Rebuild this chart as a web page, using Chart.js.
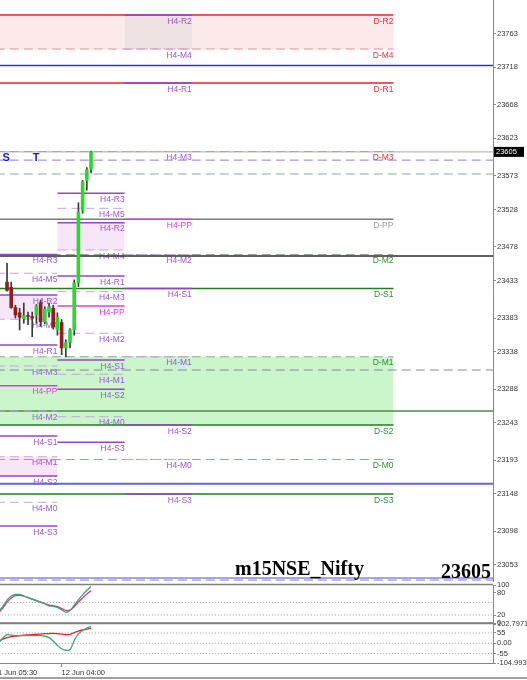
<!DOCTYPE html>
<html>
<head>
<meta charset="utf-8">
<script src="https://cdn.jsdelivr.net/npm/chart.js@4"></script>
<style>
  body { margin: 0; background: #fff; }
  #wrap { position: relative; width: 527px; height: 680px; overflow: hidden; }
  canvas { position: absolute; left: 0; }
</style>
</head>
<body>
<div id="wrap">
  <canvas id="main" width="527" height="582" style="top:0"></canvas>
  <canvas id="osc1" width="527" height="52" style="top:578px"></canvas>
  <canvas id="osc2" width="527" height="63" style="top:617px"></canvas>
</div>
<script>
// ---- data ----
const symbolName = 'm15NSE_Nifty';

const opens  = [23431,23424,23397,23390,23382,23386,23385,23387,23403,23378,23391,23396,23367,23377,23343,23350,23367,23430,23527,23567,23582];
const highs  = [23456,23431,23400,23396,23403,23391,23391,23401,23407,23398,23403,23400,23390,23381,23354,23369,23434,23537,23567,23584,23606];
const lows   = [23419,23396,23383,23367,23376,23374,23358,23376,23372,23375,23384,23368,23360,23334,23331,23343,23360,23425,23523,23554,23577];
const closes = [23420,23397,23387,23384,23386,23385,23383,23399,23378,23395,23398,23371,23384,23343,23350,23367,23430,23525,23565,23581,23605];

const priceTicks = [23763,23718,23668,23623,23573,23528,23478,23433,23383,23338,23288,23243,23193,23148,23098,23053];

const dailyNames  = ['D-R2','D-M4','D-R1','D-M3','D-PP','D-M2','D-S1','D-M1','D-S2','D-M0','D-S3'];
const dailyValues = [23788.0,23742.5,23697.1,23605.5,23514.9,23467.9,23422.4,23331.2,23240.0,23193.9,23147.8];
const dailyEnd = 92;

const h4Names = ['H4-R3','H4-M5','H4-R2','H4-M4','H4-R1','H4-M3','H4-PP','H4-M2','H4-S1','H4-M1','H4-S2','H4-M0','H4-S3'];
const h4PrevValues = [23467.9,23442.8,23413.8,23381.3,23346.9,23318.9,23292.5,23258.7,23225.3,23197.6,23171.9,23136.7,23105.1];
const h4CurValues  = [23549.7,23529.6,23510.4,23473.9,23439.2,23418.2,23399.1,23362.6,23326.9,23307.8,23287.7,23251.1,23216.9];
const h4NextValues = [null,null,23788.0,23742.5,23697.1,23605.5,23514.9,23467.9,23422.4,23331.2,23240.0,23193.9,23147.8];
const h4Starts = [-6, 12, 28];
const h4Ends   = [12, 28, 44];

// other horizontal lines that run to the price axis
const extraValues = [23720.5, 23605, 23594, 23575.5, 23465.9, 23313.5, 23258.8, 23161.6, 23035.5, 23033];

const sessionMarks = ['S', 'T'];
const sessionIdx   = [-0.2, 6.9];
const sessionPrice = 23597;

const oscIdx      = [-2,-1,0,1,2,3,4,5,6,7,8,9,10,11,12,13,14,15,16,17,18,19,20];
const stochMain   = [31,44,60,71,75,75,71,67,63,59,55,51,45,44,41,35,28,33,47,61,74,86,96];
const stochSignal = [28,39,55,66,72,73,71,67,63,59,55,51,47,46,43,38,33,34,43,55,66,76,85];
const stochLevels = [54, 21];
const stochTicks  = [100, 80, 20, 0];

const cciMain   = [1,28,46,44,41,41,41,41,41,41,41,38,30,12,-10,-29,-37,-34,15,50,68,81,89];
const cciSignal = [9,22,30,36,38,41,44,45,46,48,49,51,52,53,52,49,46,48,57,65,71,76,80];
const cciLevels = [55, 0, -55];
const cciTicks  = [102.7971, 55, 0, -55, -104.993];
const cciTickLabels = ['102.7971', '55', '0.00', '-55', '-104.993'];

const timeTickIdx = [-3, 13];
const timeLabels  = ['11 Jun 05:30', '12 Jun 04:00'];

// ---- styles ----
const xMin = -1.67, xMax = 115.7;
const yMin = 23030.2, yMax = 23808;
const DASH = [9, 5];
const UP = '#30d630', DOWN = '#8e1f1f', WICK = '#3a3a3a';
const axisFont = { family: 'Liberation Sans', size: 7.5 };
const labelFont = '8.5px "Liberation Sans"';

const extraStyles = [
  { color: '#3232cf', width: 1.5, dash: [] },
  { color: '#a8a8a8', width: 1, dash: [] },
  { color: '#8585d0', width: 1, dash: DASH },
  { color: '#86b086', width: 1, dash: DASH },
  { color: '#2a2a2a', width: 1.5, dash: [] },
  { color: '#8585b0', width: 1, dash: DASH },
  { color: '#4f874f', width: 1.5, dash: [] },
  { color: '#6666d2', width: 2, dash: [] },
  { color: '#a6a6e6', width: 2, dash: [] },
  { color: '#a6a6e6', width: 1.5, dash: DASH }
];

function dailyStyle(name) {
  if (name === 'D-PP') return { line: '#7a7a7a', label: '#9a9a9a', width: 1.5, dash: [] };
  const mid = name.startsWith('D-M');
  if (['D-R2', 'D-M4', 'D-R1', 'D-M3'].includes(name))
    return { line: mid ? '#ec8a8f' : '#e8232b', label: '#e8303a', width: mid ? 1 : 1.5, dash: mid ? DASH : [] };
  return { line: mid ? '#86b086' : '#1f7f1f', label: '#2f8f2f', width: mid ? 1 : 1.5, dash: mid ? DASH : [] };
}

function h4Style(name) {
  if (name === 'H4-PP') return { line: '#e23ae2', label: '#e23ae2', width: 1.5, dash: [] };
  if (name.startsWith('H4-M')) return { line: '#c9a2e6', label: '#9d55d6', width: 1, dash: DASH };
  return { line: '#9346c9', label: '#9d55d6', width: 1.5, dash: [] };
}

const dailyZones = [['D-R2', 'D-M4', '#fdeaea'], ['D-M1', 'D-S2', '#cbf5cb']];
const blockZones = [
  [['H4-R2', 'H4-M4', '#f7e6f7'], ['H4-M1', 'H4-S2', '#f7e6f7']],
  [['H4-R2', 'H4-M4', '#f7e6f7']],
  [['H4-R2', 'H4-M4', '#efe2e2']]
];

// ---- datasets ----
const h4Blocks = [h4PrevValues, h4CurValues, h4NextValues];
const idx = closes.map((c, i) => i);

function hline(from, to, value, color, width, dash, order) {
  return {
    type: 'line', data: [{ x: from, y: value }, { x: to, y: value }],
    borderColor: color, borderWidth: width, borderDash: dash,
    pointRadius: 0, order: order
  };
}

const mainSets = [
  {
    type: 'bar', data: idx.map(i => ({ x: i, y: [opens[i], closes[i]] })),
    backgroundColor: idx.map(i => closes[i] >= opens[i] ? UP : DOWN),
    barThickness: 3, grouped: false, order: 0, minBarLength: 1
  },
  {
    type: 'bar', data: idx.map(i => ({ x: i, y: [lows[i], highs[i]] })),
    backgroundColor: WICK, barThickness: 1, grouped: false, order: 1
  }
];
dailyNames.forEach((n, k) => {
  const s = dailyStyle(n);
  mainSets.push(hline(xMin - 1, dailyEnd, dailyValues[k], s.line, s.width, s.dash, 5));
});
extraValues.forEach((v, k) => {
  const s = extraStyles[k];
  mainSets.push(hline(xMin - 1, xMax + 1, v, s.color, s.width, s.dash, 4));
});
h4Blocks.forEach((vals, b) => vals.forEach((v, k) => {
  if (v == null) return;
  const s = h4Style(h4Names[k]);
  mainSets.push(hline(h4Starts[b], h4Ends[b], v, s.line, s.width, s.dash, 3));
}));

const levelDecor = {
  id: 'levelDecor',
  beforeDatasetsDraw(chart) {
    const { ctx, chartArea: a, scales: { x, y } } = chart;
    ctx.save();
    ctx.beginPath(); ctx.rect(a.left, a.top, a.width, a.height); ctx.clip();
    const dv = n => dailyValues[dailyNames.indexOf(n)];
    dailyZones.forEach(([hi, lo, col]) => {
      const x0 = x.getPixelForValue(xMin - 1), x1 = x.getPixelForValue(dailyEnd);
      const y0 = y.getPixelForValue(dv(hi)), y1 = y.getPixelForValue(dv(lo));
      ctx.fillStyle = col; ctx.fillRect(x0, y0, x1 - x0, y1 - y0);
    });
    blockZones.forEach((zs, b) => zs.forEach(([hi, lo, col]) => {
      const vals = h4Blocks[b];
      const x0 = x.getPixelForValue(h4Starts[b]), x1 = x.getPixelForValue(h4Ends[b]);
      const y0 = y.getPixelForValue(vals[h4Names.indexOf(hi)]), y1 = y.getPixelForValue(vals[h4Names.indexOf(lo)]);
      ctx.fillStyle = col; ctx.fillRect(x0, y0, x1 - x0, y1 - y0);
    }));
    ctx.font = labelFont; ctx.textAlign = 'right'; ctx.textBaseline = 'top';
    dailyNames.forEach((n, k) => {
      ctx.fillStyle = dailyStyle(n).label;
      ctx.fillText(n, x.getPixelForValue(dailyEnd), y.getPixelForValue(dailyValues[k]) + 2);
    });
    h4Blocks.forEach((vals, b) => vals.forEach((v, k) => {
      if (v == null) return;
      ctx.fillStyle = h4Style(h4Names[k]).label;
      ctx.fillText(h4Names[k], x.getPixelForValue(h4Ends[b]), y.getPixelForValue(v) + 2);
    }));
    ctx.font = 'bold 11px "Liberation Sans"'; ctx.fillStyle = '#1a1ad0';
    ctx.textAlign = 'center'; ctx.textBaseline = 'middle';
    sessionMarks.forEach((m, k) => ctx.fillText(m, x.getPixelForValue(sessionIdx[k]), y.getPixelForValue(sessionPrice)));
    ctx.restore();
  },
  afterDraw(chart) {
    const { ctx, chartArea: a, scales: { y } } = chart;
    const last = closes[closes.length - 1];
    ctx.save();
    ctx.fillStyle = '#000';
    ctx.font = 'bold 20px "Liberation Serif"';
    ctx.textBaseline = 'alphabetic';
    ctx.textAlign = 'left';
    ctx.fillText(symbolName, 235, a.bottom - 7);
    ctx.textAlign = 'right';
    ctx.fillText(String(last), a.right - 2, a.bottom - 4);
    const py = y.getPixelForValue(last);
    ctx.fillRect(a.right + 1, py - 5, 30, 10);
    ctx.fillStyle = '#fff';
    ctx.font = '7.5px "Liberation Sans"';
    ctx.textAlign = 'left'; ctx.textBaseline = 'middle';
    ctx.fillText(String(last), a.right + 3, py);
    ctx.restore();
  }
};

const frame = {
  id: 'frame',
  afterDraw(chart, args, opts) {
    const { ctx, chartArea: a } = chart;
    ctx.save();
    ctx.strokeStyle = '#808080'; ctx.lineWidth = 1.5;
    ctx.beginPath();
    if (opts.top) { ctx.moveTo(0, a.top - 0.5); ctx.lineTo(a.right, a.top - 0.5); }
    if (opts.bottom) { ctx.moveTo(0, a.bottom); ctx.lineTo(a.right, a.bottom); }
    if (opts.canvasBottom) { ctx.moveTo(0, chart.height - 2); ctx.lineTo(chart.width, chart.height - 2); }
    ctx.stroke();
    ctx.restore();
  }
};

// tick labels must not push the plot area inwards
function noPad(s) {
  s.paddingTop = 0; s.paddingBottom = 0; s.paddingLeft = 0; s.paddingRight = 0;
}

function yAxis(min, max, ticks, labels, pad) {
  return {
    type: 'linear', position: 'right', min: min, max: max,
    afterFit: s => { s.width = 34; noPad(s); },
    afterBuildTicks: s => { s.ticks = ticks.map(v => ({ value: v })); },
    ticks: {
      autoSkip: false, font: axisFont, color: '#333', padding: pad,
      callback: (v, i) => labels ? labels[i] : String(v)
    },
    grid: { drawOnChartArea: false, tickLength: 3, color: '#888' },
    border: { color: '#888' }
  };
}

new Chart(document.getElementById('main'), {
  type: 'bar',
  data: { datasets: mainSets },
  options: {
    responsive: false, animation: false,
    layout: { padding: 0, autoPadding: false },
    plugins: { legend: { display: false }, tooltip: { enabled: false } },
    scales: {
      x: { type: 'linear', min: xMin, max: xMax, offset: false, display: false },
      y: yAxis(yMin, yMax, priceTicks, null, 1)
    }
  },
  plugins: [levelDecor]
});

function dotted(v) {
  return hline(xMin - 1, xMax + 1, v, '#9a9a9a', 1, [1, 2], 5);
}
function curve(vals, color) {
  return {
    type: 'line', data: oscIdx.map((x, k) => ({ x: x, y: vals[k] })),
    borderColor: color, borderWidth: 1.3, pointRadius: 0, tension: 0.35, order: 1
  };
}

new Chart(document.getElementById('osc1'), {
  type: 'line',
  data: { datasets: [...stochLevels.map(dotted), curve(stochMain, '#3aa86a'), curve(stochSignal, '#e42a86')] },
  options: {
    responsive: false, animation: false,
    layout: { padding: { top: 7, bottom: 7, left: 0, right: 0 }, autoPadding: false },
    plugins: { legend: { display: false }, tooltip: { enabled: false }, frame: { top: true, bottom: true } },
    scales: {
      x: { type: 'linear', min: xMin, max: xMax, display: false },
      y: yAxis(0, 100, stochTicks, null, 1)
    }
  },
  plugins: [frame]
});

new Chart(document.getElementById('osc2'), {
  type: 'line',
  data: { datasets: [...cciLevels.map(dotted), curve(cciMain, '#3aa86a'), curve(cciSignal, '#e02424')] },
  options: {
    responsive: false, animation: false,
    layout: { padding: { top: 7, bottom: 0, left: 0, right: 0 }, autoPadding: false },
    plugins: { legend: { display: false }, tooltip: { enabled: false }, frame: { top: true, canvasBottom: true } },
    scales: {
      x: {
        type: 'linear', min: xMin, max: xMax,
        afterFit: s => { s.height = 17; noPad(s); },
        afterBuildTicks: s => { s.ticks = timeTickIdx.map(v => ({ value: v })); },
        ticks: { autoSkip: false, maxRotation: 0, align: 'start', font: axisFont, color: '#333', padding: 1,
                 callback: (v, i) => timeLabels[i] },
        grid: { drawOnChartArea: false, tickLength: 4, color: '#888' },
        border: { color: '#888' }
      },
      y: yAxis(-104.993, 102.7971, cciTicks, cciTickLabels, 1)
    }
  },
  plugins: [frame]
});
</script>
</body>
</html>
